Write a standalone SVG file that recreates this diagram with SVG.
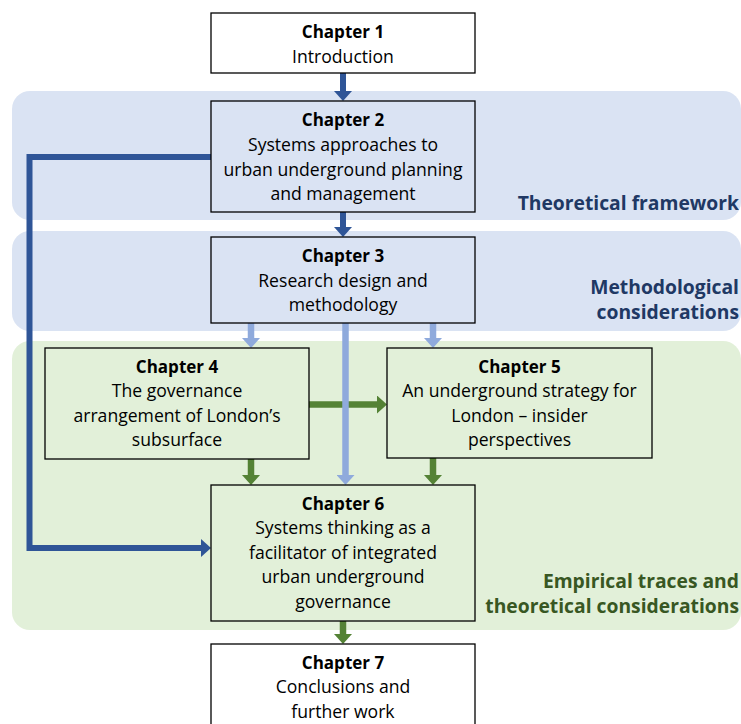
<svg xmlns="http://www.w3.org/2000/svg" width="741" height="724" viewBox="0 0 741 724">
  <defs>
    <style>
      .band-blue { fill: #DAE3F3; }
      .band-green { fill: #E2F0D9; }
      .box { stroke: #000; stroke-width: 1.3; }
      .white { fill: #fff; }
      .blue { fill: #DAE3F3; }
      .green { fill: #E2F0D9; }
      text { font-family: "Open Sans", "Noto Sans", "Liberation Sans", sans-serif; font-size: 17.6px; fill: #000; text-anchor: middle; }
      .b { font-weight: bold; font-size: 17px; }
      .lab { font-size: 19.3px; font-weight: bold; text-anchor: end; }
      .navy { fill: #203864; }
      .dgreen { fill: #385723; }
      .c-dark { stroke: #2F5597; fill: none; stroke-width: 6; }
      .c-light { stroke: #8FAADC; fill: none; stroke-width: 6.5; }
      .c-green { stroke: #548235; fill: none; stroke-width: 6.5; }
    </style>
    <marker id="ah-dark" markerUnits="userSpaceOnUse" markerWidth="10" markerHeight="18" refX="0" refY="9" orient="auto">
      <path d="M0,0 L10,9 L0,18 z" fill="#2F5597"/>
    </marker>
    <marker id="ah-light" markerUnits="userSpaceOnUse" markerWidth="10" markerHeight="18" refX="0" refY="9" orient="auto">
      <path d="M0,0 L10,9 L0,18 z" fill="#8FAADC"/>
    </marker>
    <marker id="ah-green" markerUnits="userSpaceOnUse" markerWidth="10" markerHeight="18" refX="0" refY="9" orient="auto">
      <path d="M0,0 L10,9 L0,18 z" fill="#548235"/>
    </marker>
  </defs>

  <!-- background bands -->
  <g id="bands">
    <rect class="band-blue" x="12" y="91" width="729" height="129" rx="18"/>
    <rect class="band-blue" x="12" y="231" width="729" height="100" rx="18"/>
    <rect class="band-green" x="12" y="341" width="729" height="289" rx="18"/>
    <text class="lab navy" x="739" y="210">Theoretical framework</text>
    <text class="lab navy" x="739" y="294">Methodological</text>
    <text class="lab navy" x="739" y="319">considerations</text>
    <text class="lab dgreen" x="739" y="588">Empirical traces and</text>
    <text class="lab dgreen" x="739" y="613">theoretical considerations</text>
  </g>

  <!-- connectors -->
  <g id="connectors">
    <path class="c-dark" d="M343,73 V91" marker-end="url(#ah-dark)"/>
    <path class="c-dark" d="M343,212 V227" marker-end="url(#ah-dark)"/>
    <path class="c-dark" d="M211,157 H29.5 V548 H201" marker-end="url(#ah-dark)"/>
    <path class="c-green" d="M309,404.5 H377" marker-end="url(#ah-green)"/>
    <path class="c-light" d="M251,323 V338" marker-end="url(#ah-light)"/>
    <path class="c-light" d="M433,323 V338" marker-end="url(#ah-light)"/>
    <path class="c-light" d="M345.5,323 V475" marker-end="url(#ah-light)"/>
    <path class="c-green" d="M251,459 V475" marker-end="url(#ah-green)"/>
    <path class="c-green" d="M433,458 V475" marker-end="url(#ah-green)"/>
    <path class="c-green" d="M343,621 V634" marker-end="url(#ah-green)"/>
  </g>

  <g id="ch1">
    <rect class="box white" x="211" y="13" width="264" height="60"/>
    <text class="b" x="343" y="37.5">Chapter 1</text>
    <text x="343" y="62.5">Introduction</text>
  </g>

  <g id="ch2">
    <rect class="box blue" x="211" y="101" width="264" height="111"/>
    <text class="b" x="343" y="126">Chapter 2</text>
    <text x="343" y="151">Systems approaches to</text>
    <text x="343" y="175.5">urban underground planning</text>
    <text x="343" y="200">and management</text>
  </g>

  <g id="ch3">
    <rect class="box blue" x="211" y="237" width="264" height="86"/>
    <text class="b" x="343" y="262">Chapter 3</text>
    <text x="343" y="286.5">Research design and</text>
    <text x="343" y="311">methodology</text>
  </g>

  <g id="ch4">
    <rect class="box green" x="45" y="348" width="264" height="111"/>
    <text class="b" x="177" y="372.5">Chapter 4</text>
    <text x="177" y="397">The governance</text>
    <text x="177" y="421.5">arrangement of London’s</text>
    <text x="177" y="446">subsurface</text>
  </g>

  <g id="ch5">
    <rect class="box green" x="387" y="348" width="265" height="110"/>
    <text class="b" x="519.5" y="372.5">Chapter 5</text>
    <text x="519.5" y="397">An underground strategy for</text>
    <text x="519.5" y="421.5">London – insider</text>
    <text x="519.5" y="446">perspectives</text>
  </g>

  <g id="ch6">
    <rect class="box green" x="211" y="485" width="264" height="136"/>
    <text class="b" x="343" y="509.5">Chapter 6</text>
    <text x="343" y="534">Systems thinking as a</text>
    <text x="343" y="558.5">facilitator of integrated</text>
    <text x="343" y="583">urban underground</text>
    <text x="343" y="607.5">governance</text>
  </g>

  <g id="ch7">
    <rect class="box white" x="211" y="644" width="264" height="90"/>
    <text class="b" x="343" y="669">Chapter 7</text>
    <text x="343" y="693">Conclusions and</text>
    <text x="343" y="717.5">further work</text>
  </g>
</svg>
